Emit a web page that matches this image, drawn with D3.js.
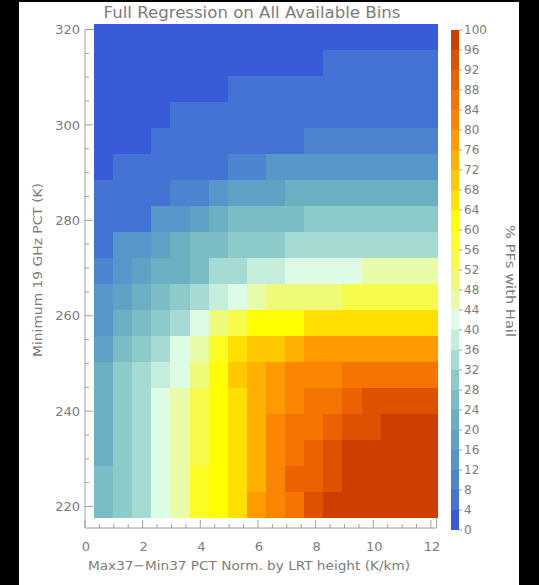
<!DOCTYPE html>
<html><head><meta charset="utf-8">
<script src="https://cdn.jsdelivr.net/npm/d3@7"></script>
<style>
html,body{margin:0;padding:0;background:#000;}
svg{display:block;}
text{font-family:"DejaVu Sans",sans-serif;fill:#7c7c7c;}
</style></head>
<body>
<svg id="c" width="539" height="585"></svg>
<script>
// ---------- data ----------
const title = "Full Regression on All Available Bins";
const xLabel = "Max37\u2212Min37 PCT Norm. by LRT height (K/km)";
const yLabel = "Minimum 19 GHz PCT (K)";
const cbLabel = "% PFs with Hail";
// bin edges (data units)
const xEdges = [0.31,0.97,1.64,2.30,2.96,3.63,4.29,4.95,5.62,6.28,6.94,7.61,8.27,8.93,9.60,10.26,10.92,11.59,12.25];
const yEdges = [321.15,315.71,310.26,304.82,299.37,293.93,288.48,283.04,277.59,272.15,266.70,261.26,255.81,250.37,244.92,239.48,234.03,228.59,223.14,217.70];
// % PFs with hail, rows from top (warm PCT) to bottom (cold PCT), columns left to right
const hailPct = [
 [2,2,2,2,2,2,2,2,2,2,2,2,2,2,2,2,2,2],
 [2,2,2,2,2,2,2,2,2,2,2,2,6,6,6,6,6,6],
 [2,2,2,2,2,2,2,6,6,6,6,6,6,6,6,6,6,6],
 [2,2,2,2,6,6,6,6,6,6,6,6,6,6,6,6,6,6],
 [2,2,2,6,6,6,6,6,6,6,6,10,10,10,10,10,10,10],
 [2,6,6,6,6,6,6,10,10,14,14,14,14,14,14,14,14,14],
 [6,6,6,6,10,10,14,18,18,18,22,22,22,22,22,22,22,22],
 [6,6,6,14,14,18,22,26,26,26,26,30,30,30,30,30,30,30],
 [6,14,14,18,22,26,26,30,30,30,34,34,34,34,34,34,34,34],
 [10,14,18,22,22,26,34,34,38,38,42,42,42,42,46,46,46,46],
 [14,18,22,26,30,34,38,42,46,50,50,50,50,54,54,54,54,54],
 [14,22,26,30,34,42,50,54,62,62,62,66,66,66,66,66,66,66],
 [18,26,30,34,42,46,58,66,70,70,74,78,78,78,78,78,78,78],
 [22,30,34,38,42,50,62,70,74,78,82,82,82,86,86,86,86,86],
 [22,30,34,42,46,54,62,66,74,78,82,86,86,90,94,94,94,94],
 [22,30,34,42,46,54,62,66,74,82,86,86,90,94,94,98,98,98],
 [22,30,34,42,46,54,62,66,74,82,86,90,94,98,98,98,98,98],
 [26,30,34,42,46,58,62,66,74,82,90,90,94,98,98,98,98,98],
 [26,30,34,42,46,58,62,66,78,82,86,94,98,98,98,98,98,98]
];
const xTicks = [0,2,4,6,8,10,12];
const yTicks = [220,240,260,280,300,320];
const cbTicks = [0,4,8,12,16,20,24,28,32,36,40,44,48,52,56,60,64,68,72,76,80,84,88,92,96,100];
const palette = ["#3a5bd9","#4473d6","#4c84d0","#5696ca","#60a2c5","#6aafc2","#7bbcc5","#8dcaca","#a5dbd3","#c4eddc",
 "#dcfce5","#e8fba8","#effa78","#f6fb4a","#fcfc22","#ffff00","#ffe000","#ffc800","#ffb000","#ff9a00",
 "#fc8500","#f57300","#eb6300","#dd5100","#cc3f00"];

// ---------- drawing ----------
const svg = d3.select("#c");
svg.append("rect").attr("x",19).attr("y",2).attr("width",500).attr("height",583).attr("fill","#fff");

const x = d3.scaleLinear().domain([0,12.2]).range([85,436.7]);
const y = d3.scaleLinear().domain([215.5,320]).range([528,29.5]);
const color = d3.scaleQuantize().domain([0,100]).range(palette);

const axCol = "#a0a0a0";
svg.append("line").attr("x1",x(0)).attr("x2",x(12.2)).attr("y1",y(320)).attr("y2",y(320)).attr("stroke",axCol);
svg.append("line").attr("x1",x(12.2)).attr("x2",x(12.2)).attr("y1",y(215.5)).attr("y2",y(320)).attr("stroke",axCol);

// heatmap
const cells = [];
hailPct.forEach((row,r)=>row.forEach((v,c)=>cells.push({r,c,v})));
svg.append("g").attr("shape-rendering","crispEdges").selectAll("rect").data(cells).join("rect")
  .attr("x",d=>Math.round(x(xEdges[d.c])))
  .attr("y",d=>Math.round(y(yEdges[d.r])))
  .attr("width",d=>Math.round(x(xEdges[d.c+1]))-Math.round(x(xEdges[d.c])))
  .attr("height",d=>Math.round(y(yEdges[d.r+1]))-Math.round(y(yEdges[d.r])))
  .attr("fill",d=>color(d.v));

// x axis (ticks inward, up)
const xMinor = d3.range(0,12.01,0.5);
const gx = svg.append("g").attr("transform",`translate(0,${y(215.5)})`);
gx.append("line").attr("x1",x(0)).attr("x2",x(12.2)).attr("stroke",axCol);
gx.selectAll(".mt").data(xMinor).join("line")
  .attr("x1",d=>x(d)).attr("x2",d=>x(d)).attr("y1",0)
  .attr("y2",d=>xTicks.includes(d)?-8:-4).attr("stroke",axCol);
gx.selectAll("text").data(xTicks).join("text")
  .attr("x",d=>x(d)+1).attr("y",23).attr("text-anchor","middle")
  .attr("font-size",13).text(d=>d);

// y axis (ticks inward, right)
const yMinor = d3.range(220,320.01,5);
const gy = svg.append("g").attr("transform",`translate(${x(0)},0)`);
gy.append("line").attr("y1",y(215.5)).attr("y2",y(320)).attr("stroke",axCol);
gy.selectAll(".mt").data(yMinor).join("line")
  .attr("y1",d=>y(d)).attr("y2",d=>y(d)).attr("x1",0)
  .attr("x2",d=>yTicks.includes(d)?8:4).attr("stroke",axCol);
gy.selectAll("text").data(yTicks).join("text")
  .attr("x",-5).attr("y",d=>y(d)).attr("dy","0.36em").attr("text-anchor","end")
  .attr("font-size",13).text(d=>d);

// titles
svg.append("text").attr("x",252).attr("y",18).attr("text-anchor","middle").attr("font-size",15)
  .attr("textLength",297).attr("lengthAdjust","spacingAndGlyphs").text(title);
svg.append("text").attr("x",249).attr("y",570).attr("text-anchor","middle").attr("font-size",13)
  .attr("textLength",322).attr("lengthAdjust","spacingAndGlyphs").text(xLabel);
svg.append("text").attr("transform","translate(42,270) rotate(-90)").attr("text-anchor","middle").attr("font-size",13)
  .attr("textLength",174).attr("lengthAdjust","spacingAndGlyphs").text(yLabel);

// colorbar
const cb = d3.scaleLinear().domain([0,100]).range([530,30]);
const levels = d3.range(palette.length);
svg.append("g").attr("shape-rendering","crispEdges").selectAll("rect").data(levels).join("rect")
  .attr("x",451).attr("width",8)
  .attr("y",k=>Math.round(cb(cbTicks[k+1]))).attr("height",k=>Math.round(cb(cbTicks[k]))-Math.round(cb(cbTicks[k+1])))
  .attr("fill",k=>palette[k]);
svg.append("g").selectAll("line").data(cbTicks).join("line")
  .attr("x1",459).attr("x2",462).attr("y1",d=>cb(d)).attr("y2",d=>cb(d)).attr("stroke",axCol);
svg.append("g").selectAll("text").data(cbTicks).join("text")
  .attr("x",464).attr("y",d=>cb(d)).attr("dy","0.36em").attr("font-size",12).text(d=>d);
svg.append("text").attr("transform","translate(506,281) rotate(90)").attr("text-anchor","middle").attr("font-size",13)
  .attr("textLength",112).attr("lengthAdjust","spacingAndGlyphs").text(cbLabel);
</script>
</body></html>
